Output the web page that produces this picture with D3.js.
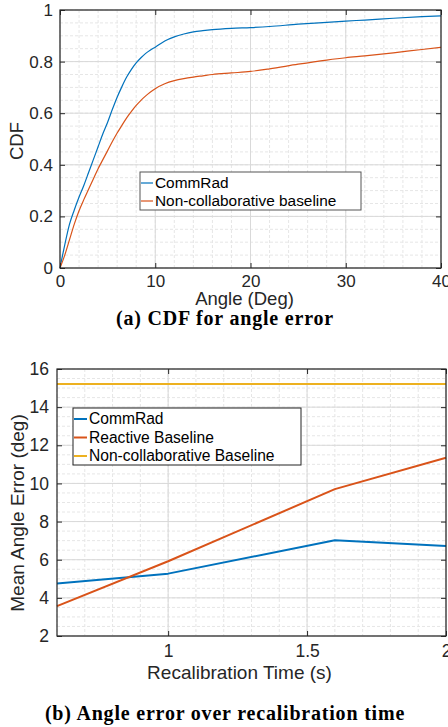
<!DOCTYPE html>
<html>
<head>
<meta charset="utf-8">
<script src="https://cdn.jsdelivr.net/npm/d3@7"></script>
<style>
  body { margin: 0; background: #fff; }
  svg { display: block; }
</style>
</head>
<body>
<svg id="chart" width="448" height="727"></svg>
<script>
// ---------- Data: (a) CDF for angle error ----------
const cdfAngles = [0, 0.5, 1, 1.5, 2, 2.5, 3, 3.5, 4, 4.5, 5, 5.5, 6, 6.5, 7, 7.5, 8, 8.5, 9, 9.5, 10,
                   11, 12, 13, 14, 15, 16, 18, 20, 22, 25, 28, 30, 32, 35, 38, 40];
const cdfCommRad = [0, 0.09, 0.17, 0.225, 0.275, 0.32, 0.37, 0.42, 0.47, 0.52, 0.565, 0.615, 0.662, 0.703, 0.74, 0.77, 0.795, 0.815, 0.832, 0.845, 0.856,
                    0.88, 0.896, 0.907, 0.915, 0.92, 0.924, 0.929, 0.932, 0.936, 0.945, 0.952, 0.957, 0.961, 0.968, 0.974, 0.977];
const cdfNonCollab = [0, 0.05, 0.11, 0.17, 0.222, 0.265, 0.305, 0.345, 0.385, 0.42, 0.455, 0.49, 0.523, 0.553, 0.582, 0.607, 0.63, 0.65, 0.667, 0.682, 0.695,
                      0.714, 0.726, 0.734, 0.74, 0.745, 0.75, 0.756, 0.762, 0.772, 0.79, 0.806, 0.815, 0.822, 0.834, 0.847, 0.855];
const cdfSeriesNames = ["CommRad", "Non-collaborative baseline"];
const cdfXTicks = [0, 10, 20, 30, 40];
const cdfYTicks = [0, 0.2, 0.4, 0.6, 0.8, 1];

// ---------- Data: (b) Angle error over recalibration time ----------
const recalTimes = [0.6, 1, 1.6, 2];
const errCommRad = [4.75, 5.27, 7.02, 6.72];
const errReactive = [3.57, 5.92, 9.7, 11.35];
const errNonCollab = [15.22, 15.22, 15.22, 15.22];
const errSeriesNames = ["CommRad", "Reactive Baseline", "Non-collaborative Baseline"];
const errXTicks = [1, 1.5, 2];
const errYTicks = [2, 4, 6, 8, 10, 12, 14, 16];

const C_BLUE = "#0072BD", C_RED = "#D95319", C_YEL = "#EDB120";
const AX = "#262626";
const FONT = "'Liberation Sans', Arial, Helvetica, sans-serif";

const svg = d3.select("#chart");

function drawPanel(cfg) {
  const g = svg.append("g");
  const x = d3.scaleLinear().domain(cfg.xDomain).range([cfg.left, cfg.right]);
  const y = d3.scaleLinear().domain(cfg.yDomain).range([cfg.bottom, cfg.top]);

  // minor grid
  g.append("g").selectAll("line").data(cfg.xMinor).join("line")
    .attr("x1", d => x(d)).attr("x2", d => x(d)).attr("y1", cfg.top).attr("y2", cfg.bottom)
    .attr("stroke", "#e6e6e6").attr("stroke-width", 1).attr("stroke-dasharray", "3,2");
  g.append("g").selectAll("line").data(cfg.yMinor).join("line")
    .attr("y1", d => y(d)).attr("y2", d => y(d)).attr("x1", cfg.left).attr("x2", cfg.right)
    .attr("stroke", "#e6e6e6").attr("stroke-width", 1).attr("stroke-dasharray", "3,2");
  // major grid
  g.append("g").selectAll("line").data(cfg.xTicks).join("line")
    .attr("x1", d => x(d)).attr("x2", d => x(d)).attr("y1", cfg.top).attr("y2", cfg.bottom)
    .attr("stroke", "#d9d9d9").attr("stroke-width", 1);
  g.append("g").selectAll("line").data(cfg.yTicks).join("line")
    .attr("y1", d => y(d)).attr("y2", d => y(d)).attr("x1", cfg.left).attr("x2", cfg.right)
    .attr("stroke", "#d9d9d9").attr("stroke-width", 1);

  // series
  cfg.series.forEach(s => {
    const line = d3.line().curve(cfg.curve).x((d, i) => x(s.x[i])).y(d => y(d));
    g.append("path").datum(s.y).attr("d", line)
      .attr("fill", "none").attr("stroke", s.color).attr("stroke-width", cfg.lineWidth)
      .attr("stroke-linejoin", "round");
  });

  // axes (ticks inward, box)
  const tick = 5;
  const fmt = cfg.fmt;
  const ax = [
    d3.axisBottom(x).tickValues(cfg.xTicks).tickFormat(fmt).tickSizeInner(-tick).tickSizeOuter(0).tickPadding(cfg.xPad),
    d3.axisTop(x).tickValues(cfg.xTicks).tickFormat("").tickSizeInner(-tick).tickSizeOuter(0),
    d3.axisLeft(y).tickValues(cfg.yTicks).tickFormat(fmt).tickSizeInner(-tick).tickSizeOuter(0).tickPadding(cfg.yPad),
    d3.axisRight(y).tickValues(cfg.yTicks).tickFormat("").tickSizeInner(-tick).tickSizeOuter(0)
  ];
  const pos = [
    `translate(0,${cfg.bottom})`, `translate(0,${cfg.top})`,
    `translate(${cfg.left},0)`, `translate(${cfg.right},0)`
  ];
  ax.forEach((a, i) => {
    const ag = g.append("g").attr("transform", pos[i]).call(a);
    ag.select(".domain").remove();
    ag.selectAll(".tick line").attr("stroke", AX).attr("stroke-width", 1);
    ag.selectAll(".tick text").attr("fill", AX).attr("font-family", FONT).attr("font-size", cfg.tickFont);
  });
  g.append("rect").attr("x", cfg.left).attr("y", cfg.top)
    .attr("width", cfg.right - cfg.left).attr("height", cfg.bottom - cfg.top)
    .attr("fill", "none").attr("stroke", AX).attr("stroke-width", 1.2);

  // axis labels
  g.append("text").attr("x", (cfg.left + cfg.right) / 2 + cfg.xLabelDx).attr("y", cfg.xLabelY)
    .attr("text-anchor", "middle").attr("font-family", FONT).attr("font-size", cfg.labelFont)
    .attr("fill", AX).text(cfg.xLabel);
  g.append("text").attr("transform", `translate(${cfg.yLabelX},${cfg.yLabelCY}) rotate(-90)`)
    .attr("text-anchor", "middle").attr("font-family", FONT).attr("font-size", cfg.labelFont)
    .attr("fill", AX).text(cfg.yLabel);

  // legend
  const L = cfg.legend;
  g.append("rect").attr("x", L.x).attr("y", L.y).attr("width", L.w).attr("height", L.h)
    .attr("fill", "#fff").attr("stroke", L.stroke).attr("stroke-width", 1);
  cfg.series.forEach((s, i) => {
    const cy = L.y + L.first + i * L.step;
    g.append("line").attr("x1", L.x + 1).attr("x2", L.x + L.sample).attr("y1", cy).attr("y2", cy)
      .attr("stroke", s.color).attr("stroke-width", cfg.lineWidth);
    g.append("text").attr("x", L.x + L.sample + 2).attr("y", cy).attr("dy", "0.35em")
      .attr("font-family", FONT).attr("font-size", L.font).attr("fill", "#000").text(s.name);
  });

  // caption
  svg.append("text").attr("x", 225).attr("y", cfg.captionY).attr("text-anchor", "middle")
    .attr("font-family", "'Liberation Serif', 'Times New Roman', serif").attr("font-weight", "bold")
    .attr("font-size", 20).attr("letter-spacing", 0.8).attr("fill", "#000").text(cfg.caption);
}

drawPanel({
  left: 60, right: 441, top: 10, bottom: 268,
  xDomain: [0, 40], yDomain: [0, 1],
  xTicks: cdfXTicks, yTicks: cdfYTicks,
  xMinor: d3.range(0, 40.001, 2), yMinor: d3.range(0, 1.0001, 0.05),
  fmt: d => String(d),
  xPad: 7, yPad: 7, tickFont: 17, labelFont: 18.5,
  xLabel: "Angle (Deg)", xLabelY: 305, xLabelDx: -6,
  yLabel: "CDF", yLabelX: 23, yLabelCY: 141,
  lineWidth: 1.2, curve: d3.curveMonotoneX,
  series: [
    { name: cdfSeriesNames[0], x: cdfAngles, y: cdfCommRad, color: C_BLUE },
    { name: cdfSeriesNames[1], x: cdfAngles, y: cdfNonCollab, color: C_RED }
  ],
  legend: { x: 140, y: 172, w: 221, h: 38, first: 11, step: 18, sample: 13, font: 15.4, stroke: "#555" },
  caption: "(a) CDF for angle error", captionY: 325
});

drawPanel({
  left: 57, right: 446, top: 369, bottom: 636,
  xDomain: [0.6, 2], yDomain: [2, 16],
  xTicks: errXTicks, yTicks: errYTicks,
  xMinor: d3.range(0.6, 2.0001, 0.1), yMinor: d3.range(2, 16.001, 0.5),
  fmt: d => String(d),
  xPad: 8.5, yPad: 8, tickFont: 17.5, labelFont: 19,
  xLabel: "Recalibration Time (s)", xLabelY: 679, xLabelDx: -12,
  yLabel: "Mean Angle Error (deg)", yLabelX: 24, yLabelCY: 513,
  lineWidth: 2, curve: d3.curveLinear,
  series: [
    { name: errSeriesNames[0], x: recalTimes, y: errCommRad, color: C_BLUE },
    { name: errSeriesNames[1], x: recalTimes, y: errReactive, color: C_RED },
    { name: errSeriesNames[2], x: recalTimes, y: errNonCollab, color: C_YEL }
  ],
  legend: { x: 73, y: 408, w: 228, h: 57, first: 11, step: 18.5, sample: 14, font: 15.6, stroke: "#222" },
  caption: "(b) Angle error over recalibration time", captionY: 720
});
</script>
</body>
</html>
